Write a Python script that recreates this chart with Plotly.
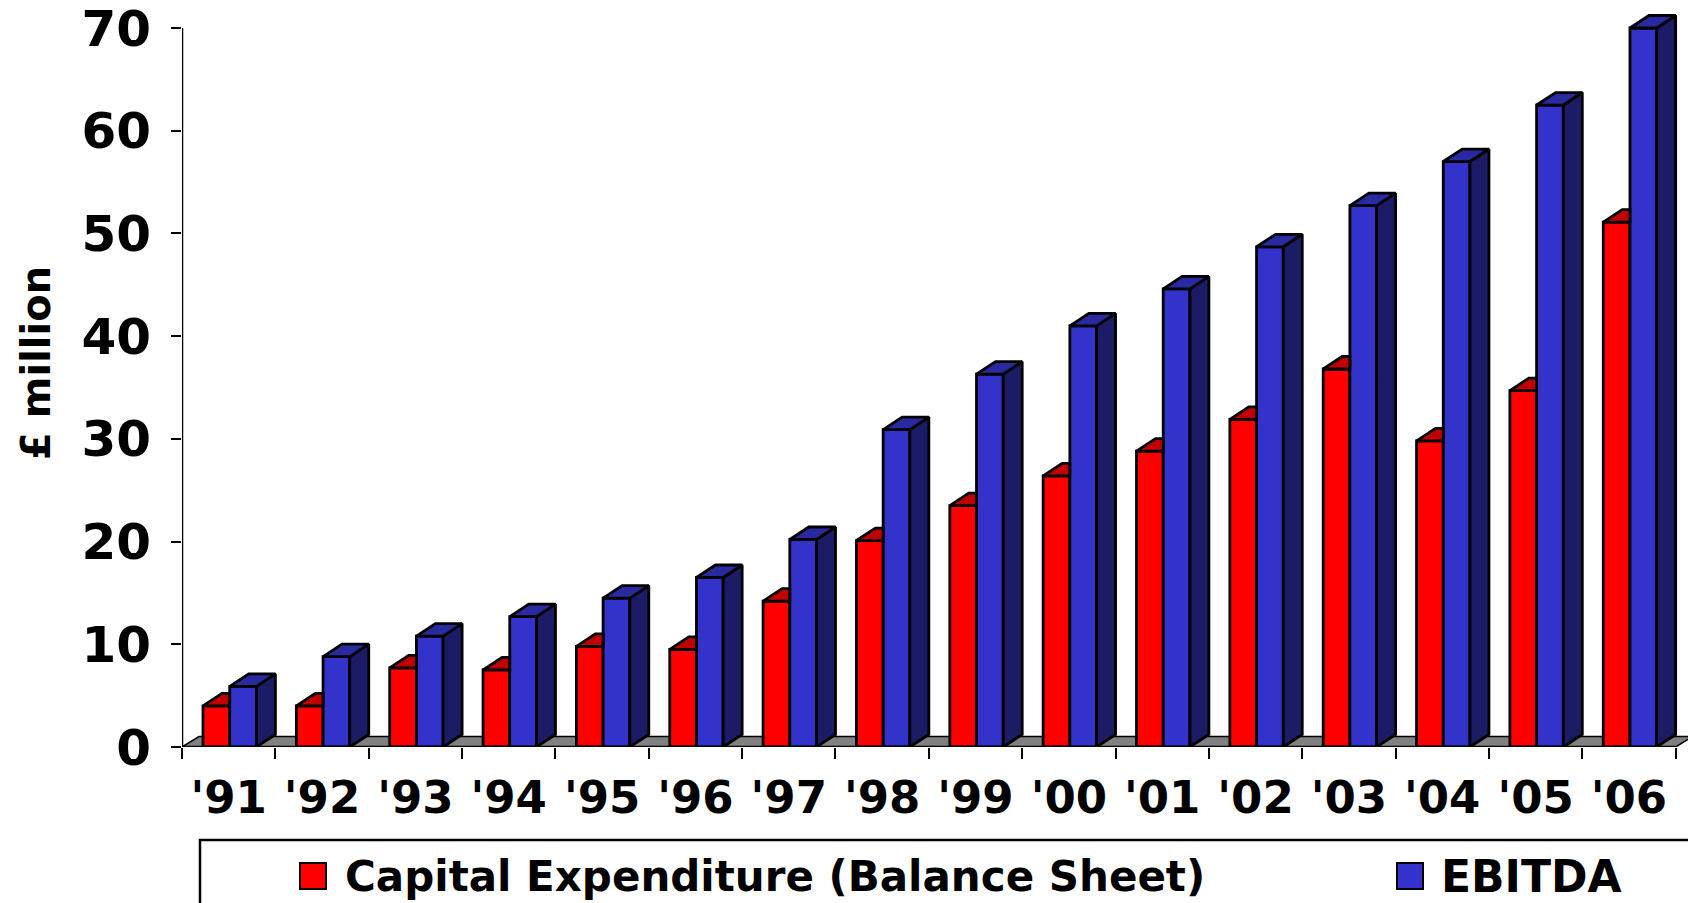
import plotly.graph_objects as go

# ---- data (£ million) ----
years = ["'91", "'92", "'93", "'94", "'95", "'96", "'97", "'98",
         "'99", "'00", "'01", "'02", "'03", "'04", "'05", "'06"]
capex = [4.0, 4.0, 7.7, 7.5, 9.8, 9.5, 14.2, 20.1,
         23.5, 26.4, 28.8, 31.9, 36.8, 29.8, 34.7, 51.1]
ebitda = [5.9, 8.8, 10.8, 12.7, 14.5, 16.5, 20.2, 30.9,
          36.3, 41.0, 44.6, 48.7, 52.7, 57.0, 62.5, 70.0]
y_ticks = [0, 10, 20, 30, 40, 50, 60, 70]
series_names = ["Capital Expenditure (Balance Sheet)", "EBITDA"]

# ---- page geometry ----
W, H = 1688, 903
ML, MB = 182, 156
PLOT_W = W - ML
PLOT_H = H - MB
PX_PER_CAT = 93.35                      # horizontal pixels per category
PX_PER_UNIT = (PLOT_H - 28) / y_ticks[-1]  # vertical pixels per £m
X_MAX = PLOT_W / PX_PER_CAT
Y_MAX = PLOT_H / PX_PER_UNIT

# bar layout inside each category (fractions of a category)
BAR_LEFT = 0.225
BAR_W = 0.286
# 3-D depth offsets, converted from pixels into axis units
DX = 19 / PX_PER_CAT
DY = 12.5 / PX_PER_UNIT
FLOOR_DX = 17 / PX_PER_CAT
FLOOR_DY = 10.5 / PX_PER_UNIT

RED, RED_TOP = "#FF0000", "#C00000"
BLUE, BLUE_TOP, BLUE_SIDE = "#3333CC", "#2A2AA0", "#1C1C66"
EDGE_W = 2.8
OUTLINE = dict(color="black", width=EDGE_W)
FONT = "DejaVu Sans"

n = len(years)
centers = [i + 0.5 for i in range(n)]


def px_x(px):
    return (px - ML) / PLOT_W


def px_y(py):
    return (PLOT_H - py) / PLOT_H


def poly_trace(xs, ys, fill):
    return go.Scatter(x=xs, y=ys, mode="lines", fill="toself", fillcolor=fill,
                      line=dict(color="black", width=EDGE_W), hoverinfo="skip",
                      showlegend=False)


# top faces / side faces built from the data values
red_top_x, red_top_y = [], []
blue_top_x, blue_top_y = [], []
blue_side_x, blue_side_y = [], []
for i in range(n):
    xl = i + BAR_LEFT
    xm = xl + BAR_W            # red/blue boundary
    xr = xm + BAR_W            # right edge of the blue front face
    v = capex[i]
    red_top_x += [xl, xm, xm, xl + DX, xl, None]
    red_top_y += [v, v, v + DY, v + DY, v, None]
    e = ebitda[i]
    blue_top_x += [xm, xr, xr + DX, xm + DX, xm, None]
    blue_top_y += [e, e, e + DY, e + DY, e, None]
    blue_side_x += [xr, xr, xr + DX, xr + DX, xr, None]
    blue_side_y += [0, e, e + DY, DY, 0, None]

fig = go.Figure()
fig.add_trace(go.Bar(x=centers, y=capex, width=BAR_W, offset=BAR_LEFT - 0.5,
                     marker=dict(color=RED, line=OUTLINE), name=series_names[0],
                     showlegend=False))
fig.add_trace(go.Bar(x=centers, y=ebitda, width=BAR_W, offset=BAR_LEFT - 0.5 + BAR_W,
                     marker=dict(color=BLUE, line=OUTLINE), name=series_names[1],
                     showlegend=False))
fig.add_trace(poly_trace(red_top_x, red_top_y, RED_TOP))
fig.add_trace(poly_trace(blue_side_x, blue_side_y, BLUE_SIDE))
fig.add_trace(poly_trace(blue_top_x, blue_top_y, BLUE_TOP))

shapes = [
    # grey floor under the bars
    dict(type="path", xref="x", yref="y", layer="below",
         path=f"M 0,0 L {n},0 L {n + FLOOR_DX},{FLOOR_DY} L {FLOOR_DX},{FLOOR_DY} Z",
         fillcolor="#808080", line=dict(color="black", width=1.5)),
    # axis lines
    dict(type="line", xref="x", yref="y", x0=0, x1=0, y0=0, y1=y_ticks[-1],
         line=dict(color="black", width=2.5)),
    dict(type="line", xref="x", yref="y", x0=0, x1=n, y0=0, y1=0,
         line=dict(color="black", width=2.5)),
    # legend frame
    dict(type="rect", xref="paper", yref="paper",
         x0=px_x(200), x1=px_x(W + 20), y0=px_y(840), y1=px_y(H + 40),
         line=dict(color="black", width=2.5), fillcolor="rgba(0,0,0,0)"),
    # legend swatches
    dict(type="rect", xref="paper", yref="paper",
         x0=px_x(300), x1=px_x(326), y0=px_y(889), y1=px_y(863),
         line=dict(color="black", width=2), fillcolor=RED),
    dict(type="rect", xref="paper", yref="paper",
         x0=px_x(1397), x1=px_x(1423), y0=px_y(889), y1=px_y(863),
         line=dict(color="black", width=2), fillcolor=BLUE),
]

legend_font = dict(family=FONT, size=42, color="black", weight="bold")
annotations = [
    dict(text="£ million", textangle=-90, xref="paper", yref="paper",
         x=px_x(36), y=px_y(363), xanchor="center", yanchor="middle",
         showarrow=False, font=dict(family=FONT, size=40, color="black", weight="bold")),
    dict(text=series_names[0], xref="paper", yref="paper",
         x=px_x(343), y=px_y(876), xanchor="left", yanchor="middle",
         showarrow=False, font=legend_font),
    dict(text=series_names[1], xref="paper", yref="paper",
         x=px_x(1439), y=px_y(876), xanchor="left", yanchor="middle",
         showarrow=False, font=dict(family=FONT, size=44, color="black", weight="bold")),
]

fig.update_layout(
    width=W, height=H,
    margin=dict(l=ML, r=0, t=0, b=MB, pad=0, autoexpand=False),
    paper_bgcolor="white", plot_bgcolor="white",
    barmode="overlay", showlegend=False,
    shapes=shapes, annotations=annotations,
    xaxis=dict(range=[0, X_MAX], tickmode="array", tickvals=centers, ticktext=years,
               ticks="", showgrid=False, zeroline=False, showline=False,
               tickfont=dict(family=FONT, size=45, color="black", weight="bold"),
               ticklabelstandoff=20, ticklabeloverflow="allow",
               minor=dict(tickmode="array", tickvals=list(range(n + 1)), ticks="outside",
                          ticklen=11, tickwidth=2, tickcolor="black", showgrid=False)),
    yaxis=dict(range=[0, Y_MAX], tickmode="array", tickvals=y_ticks,
               ticks="outside", ticklen=10, tickwidth=2, tickcolor="black",
               showgrid=False, zeroline=False, showline=False,
               tickfont=dict(family=FONT, size=50, color="black", weight="bold"),
               ticklabelstandoff=10, ticklabeloverflow="allow"),
)

fig.write_html("out.html")
